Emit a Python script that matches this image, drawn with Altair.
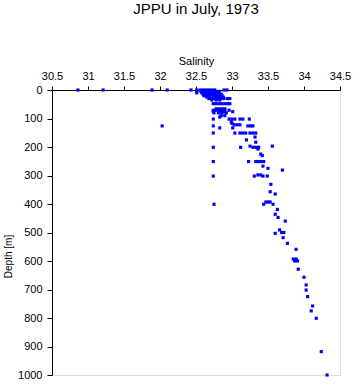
import altair as alt
import pandas as pd

# Salinity / depth pairs, grouped by depth rows
depth = (
    [0] * 14 + [5] * 8 + [10] * 8 + [15] * 7 + [20] * 7 + [25] * 6 + [30] * 8 + [35] * 3
    + [48] * 7 + [66] * 4 + [71] * 6 + [76] * 4 + [80] * 4 + [90] * 2 + [95]
    + [102] * 7 + [112] + [117] + [122] * 3 + [126] * 5 + [133] * 2
    + [151] * 8 + [165] + [175] + [183] + [197] * 2 + [201] * 5 + [207] + [225] + [230]
    + [251] * 6 + [267] + [275] + [281] + [298] * 2 + [302] * 4 + [331] + [357] + [365]
    + [393] * 3 + [401] * 3 + [419] + [436] + [447] + [460] + [491] + [500] * 2 + [503]
    + [518] + [538] + [559] + [593] * 2 + [600] * 2 + [629] + [657] + [684] + [702]
    + [725] + [758] + [775] + [801] + [918] + [1000]
)
salinity = [
    30.86, 31.21, 31.89, 32.10, 32.43, 32.51, 32.56, 32.60, 32.64, 32.68, 32.72, 32.76, 32.89, 32.93,
    32.51, 32.57, 32.61, 32.65, 32.69, 32.74, 32.78, 32.82,
    32.51, 32.58, 32.63, 32.67, 32.71, 32.75, 32.79, 32.83,
    32.60, 32.64, 32.68, 32.72, 32.76, 32.81, 32.85,
    32.61, 32.65, 32.69, 32.74, 32.78, 32.82, 32.86,
    32.65, 32.69, 32.74, 32.78, 32.82, 32.88,
    32.68, 32.72, 32.76, 32.81, 32.85, 32.89, 32.94, 32.97,
    32.72, 32.78, 32.83,
    32.74, 32.78, 32.82, 32.86, 32.90, 32.94, 32.97,
    32.78, 32.82, 32.86, 32.90,
    32.74, 32.78, 32.82, 32.86, 32.90, 32.96,
    32.74, 32.83, 32.89, 33.01,
    32.75, 32.81, 32.86, 32.92,
    32.85, 32.90,
    32.83,
    32.74, 32.96, 33.00, 33.04, 33.11, 33.15, 33.24,
    32.99,
    33.00,
    33.03, 33.07, 33.11,
    32.03, 32.74, 33.22, 33.26, 33.29,
    32.83, 33.01,
    32.74, 33.04, 33.11, 33.15, 33.19, 33.25, 33.29, 33.33,
    33.32,
    33.20,
    33.33,
    33.56, 33.25,
    32.74, 33.12, 33.29, 33.33, 33.37,
    33.36,
    33.40,
    33.42,
    32.74, 33.23, 33.33, 33.37, 33.40, 33.44,
    33.43,
    33.50,
    33.70,
    33.36, 33.40,
    32.74, 33.31, 33.43, 33.49,
    33.54,
    33.53,
    33.60,
    33.47, 33.50, 33.53,
    32.75, 33.44, 33.57,
    33.63,
    33.60,
    33.64,
    33.74,
    33.66,
    33.69, 33.72,
    33.60,
    33.71,
    33.77,
    33.89,
    33.85, 33.89,
    33.87, 33.91,
    33.92,
    34.00,
    34.03,
    34.03,
    34.05,
    34.12,
    34.10,
    34.17,
    34.24,
    34.32,
]

x_ticks = [30.5, 31, 31.5, 32, 32.5, 33, 33.5, 34, 34.5]
y_ticks = [0, 100, 200, 300, 400, 500, 600, 700, 800, 900, 1000]

df = pd.DataFrame({"Salinity": salinity, "Depth": depth})
FONT = "Liberation Sans"

chart = (
    alt.Chart(df)
    .mark_square(size=10, color="#0000ff", opacity=1)
    .encode(
        x=alt.X(
            "Salinity:Q",
            scale=alt.Scale(domain=[30.5, 34.5], nice=False, zero=False),
            axis=alt.Axis(
                orient="top", values=x_ticks, format="~g", title="Salinity",
                grid=False, tickSize=4, labelPadding=5, titlePadding=4,
                labelFontSize=11, titleFontSize=11, titleFontWeight="normal",
                labelFont=FONT, titleFont=FONT, labelColor="black", titleColor="black",
                domainColor="black", tickColor="black", labelFlush=False,
            ),
        ),
        y=alt.Y(
            "Depth:Q",
            scale=alt.Scale(domain=[0, 1000], reverse=True, nice=False),
            axis=alt.Axis(
                values=y_ticks, format="d", title="Depth [m]", grid=False, tickSize=5,
                labelPadding=5,
                labelFontSize=11, titleFontSize=10, titleFontWeight="normal",
                labelFont=FONT, titleFont=FONT, labelColor="black", titleColor="black",
                domainColor="black", tickColor="black", labelFlush=False,
                titleX=-44, titleY=166, titleAngle=270, titleBaseline="middle",
                titleAlign="center",
            ),
        ),
    )
    .properties(
        width=288,
        height=285,
        title=alt.TitleParams(
            "JPPU in July, 1973", font=FONT, fontSize=15, fontWeight="normal",
            color="black", anchor="middle", offset=38,
        ),
        autosize=alt.AutoSizeParams(type="none"),
        padding={"left": 52, "top": 90, "right": 13, "bottom": 9},
    )
    .configure_view(stroke=None)
    .configure(background="white")
)

chart.save("out.html", embed_options={"renderer": "svg", "actions": False})
